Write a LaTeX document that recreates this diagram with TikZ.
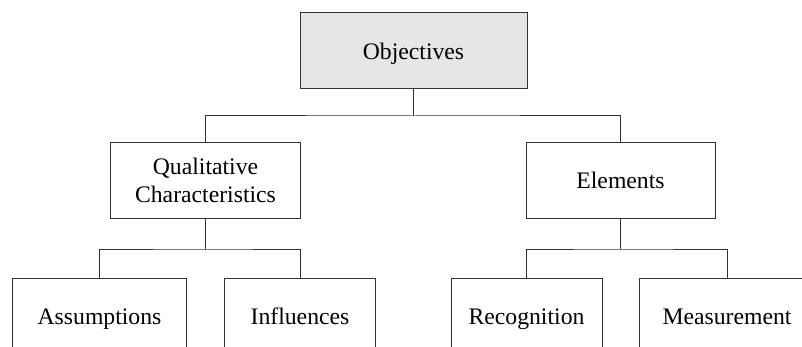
\documentclass[tikz,border=0pt]{standalone}
\usepackage{fontspec}
\setmainfont{Liberation Serif}
\usetikzlibrary{positioning}
\definecolor{boxgray}{HTML}{E6E6E6}
\definecolor{lnk}{HTML}{333333}

\begin{document}
\begin{tikzpicture}[
  x=1pt, y=-1pt,
  every node/.style={text=black, font=\fontsize{23.7}{28.5}\selectfont},
  box/.style={draw=lnk, line width=1pt, minimum height=76pt, align=center, inner sep=0pt},
  onebox/.style={box, text height=18pt, text depth=1.5pt},
  link/.style={draw=lnk, line width=1pt},
]

% Frame (the bottom row and the right box run off the picture)
\useasboundingbox (0,0) rectangle (802,347);
\clip (0,0) rectangle (802,347);

% Top box
\node[onebox, fill=boxgray, minimum width=227pt] (obj) at (413.5,51) {Objectives};

% Second row
\node[box, minimum width=189.5pt] (qual) at (205.5,180.5) {Qualitative\\Characteristics};
\node[onebox, minimum width=189pt] (elem) at (620.5,180.5) {Elements};

% Bottom row
\node[onebox, minimum width=174.5pt] (assum) at (99.5,316.5) {Assumptions};
\node[onebox, minimum width=150.5pt] (influ) at (300,316.5) {Influences};
\node[onebox, minimum width=151pt] (recog) at (526.5,316.5) {Recognition};
\node[onebox, minimum width=174.5pt] (meas) at (727,316.5) {Measurement};

% Connectors
\draw[link] (obj.south) -- ++(0,26.5) coordinate (objbus);
\draw[link] (qual.north) |- (objbus) -| (elem.north);

\draw[link] (qual.south) -- ++(0,30) coordinate (qualbus);
\draw[link] (assum.north) |- (qualbus) -| (influ.north);

\draw[link] (elem.south) -- ++(0,30) coordinate (elembus);
\draw[link] (recog.north) |- (elembus) -| (meas.north);

\end{tikzpicture}
\end{document}
